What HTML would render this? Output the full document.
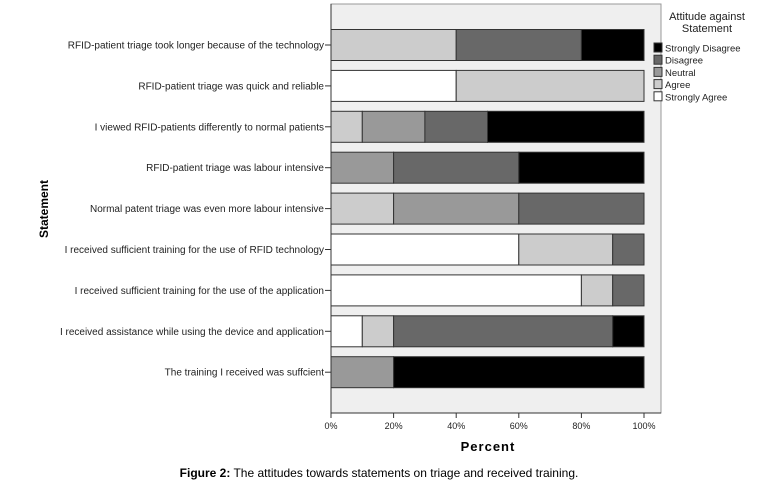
<!DOCTYPE html>
<html><head><meta charset="utf-8"><style>
body{margin:0;background:#fff;width:758px;height:487px;overflow:hidden;font-family:"Liberation Sans",sans-serif}
</style></head><body>
<svg width="758" height="487" xmlns="http://www.w3.org/2000/svg" font-family="Liberation Sans, sans-serif">
<rect x="331" y="4" width="330" height="409" fill="#efefef" stroke="#999" stroke-width="1"/>
<g id="bars"></g>
<g id="yaxis"></g>
<g id="xaxis"></g>
<line x1="331" y1="413" x2="661" y2="413" stroke="#333"/>
<line x1="331" y1="4" x2="331" y2="413" stroke="#333"/>
<text x="488" y="451" font-size="13" font-weight="bold" text-anchor="middle" letter-spacing="1">Percent</text>
<text x="0" y="0" font-size="12" font-weight="bold" text-anchor="middle" transform="translate(48,209) rotate(-90)">Statement</text>
<g font-size="10" fill="#222">
<text x="707" y="20" text-anchor="middle" font-size="11">Attitude against</text>
<text x="707" y="32" text-anchor="middle" font-size="11">Statement</text>
<g id="legend-items"></g>
</g>
<text x="379" y="477" font-size="12" text-anchor="middle"><tspan font-weight="bold">Figure 2:</tspan> The attitudes towards statements on triage and received training.</text>
</svg>
<script>
const categories=["RFID-patient triage took longer because of the technology","RFID-patient triage was quick and reliable","I viewed RFID-patients differently to normal patients","RFID-patient triage was labour intensive","Normal patent triage was  even more labour intensive","I received sufficient training for the use of RFID technology","I received sufficient training for the use of the application","I received assistance while using the device and application","The training I received was suffcient"];
const stronglyAgree=[0,40,0,0,0,60,80,10,0];
const agree=[40,60,10,0,20,30,10,10,0];
const neutral=[0,0,20,20,40,0,0,0,20];
const disagree=[40,0,20,40,40,10,10,70,0];
const stronglyDisagree=[20,0,50,40,0,0,0,10,80];
const xTicks=[0,20,40,60,80,100];
const seriesNames=["Strongly Agree","Agree","Neutral","Disagree","Strongly Disagree"];
const seriesColors=["#ffffff","#cccccc","#999999","#686868","#000000"];
const series=[stronglyAgree,agree,neutral,disagree,stronglyDisagree];
const NS="http://www.w3.org/2000/svg";
function xs(v){return 331+v*3.13;}
function yc(i){return 45+i*40.9;}
const bars=document.getElementById('bars'),ya=document.getElementById('yaxis'),xa=document.getElementById('xaxis');
categories.forEach((c,i)=>{
  let acc=0;
  series.forEach((s,k)=>{
    const v=s[i]; if(v<=0){return;}
    const r=document.createElementNS(NS,'rect');
    
    
    r.setAttribute('x',xs(acc));r.setAttribute('y',yc(i)-15.5);
    r.setAttribute('width',xs(acc+v)-xs(acc));r.setAttribute('height',31);
    r.setAttribute('fill',seriesColors[k]);r.setAttribute('stroke','#333');r.setAttribute('stroke-width','1');
    bars.appendChild(r);acc+=v;
  });
  const t=document.createElementNS(NS,'text');
  
  
  t.setAttribute('x',324);t.setAttribute('y',yc(i)+3.5);t.setAttribute('font-size','10');
  t.setAttribute('text-anchor','end');t.setAttribute('fill','#222');t.textContent=c;ya.appendChild(t);
  const l=document.createElementNS(NS,'line');
  
  
  l.setAttribute('x1',325);l.setAttribute('x2',331);l.setAttribute('y1',yc(i));l.setAttribute('y2',yc(i));l.setAttribute('stroke','#333');ya.appendChild(l);
});
xTicks.forEach(v=>{
  const l=document.createElementNS(NS,'line');
  
  
  l.setAttribute('x1',xs(v));l.setAttribute('x2',xs(v));l.setAttribute('y1',413);l.setAttribute('y2',418);l.setAttribute('stroke','#333');xa.appendChild(l);
  const t=document.createElementNS(NS,'text');
  
  
  t.setAttribute('x',xs(v));t.setAttribute('y',429);t.setAttribute('font-size','9');t.setAttribute('text-anchor','middle');t.setAttribute('fill','#222');
  t.textContent=v+'%';xa.appendChild(t);
});
const li=document.getElementById('legend-items');
[4,3,2,1,0].forEach((k,j)=>{
  const y=43+j*12.2;
  const r=document.createElementNS(NS,'rect');
  
  
  r.setAttribute('x',654);r.setAttribute('y',y);r.setAttribute('width',8);r.setAttribute('height',9);
  r.setAttribute('fill',seriesColors[k]);r.setAttribute('stroke','#333');li.appendChild(r);
  const t=document.createElementNS(NS,'text');
  
  
  t.setAttribute('x',665);t.setAttribute('y',y+8.5);t.setAttribute('font-size','9.5');t.textContent=seriesNames[k];li.appendChild(t);
});
</script>
</body></html>
